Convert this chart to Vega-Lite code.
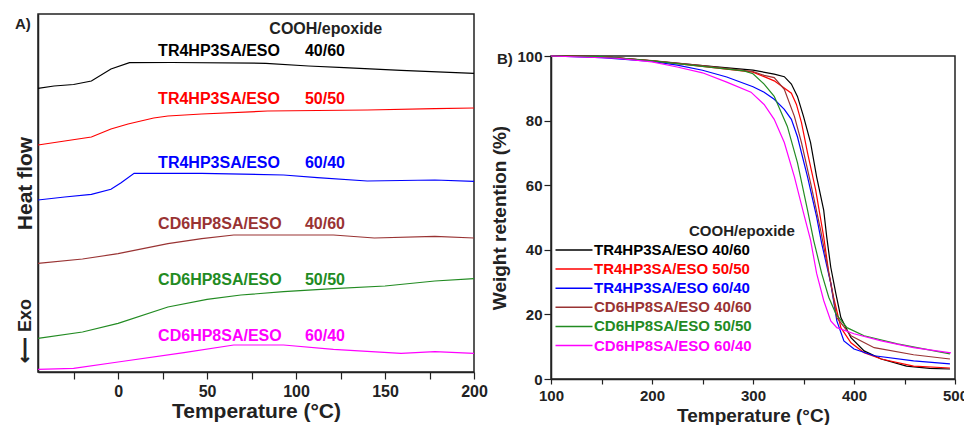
{
  "$schema": "https://vega.github.io/schema/vega-lite/v6.json",
  "background": "white",
  "padding": {"left": 13, "top": 13, "right": 0, "bottom": 0},
  "spacing": 1,
  "config": {
    "font": "Liberation Sans",
    "view": {"stroke": "#222", "strokeWidth": 1.5},
    "axis": {"labelFont": "Liberation Sans", "titleFont": "Liberation Sans", "labelFontWeight": "bold", "titleFontWeight": "bold", "labelColor": "#222", "titleColor": "#222", "domainColor": "#222", "tickColor": "#222", "grid": false, "domainWidth": 1.5, "tickWidth": 1.2},
    "legend": {"labelFont": "Liberation Sans"},
    "title": {"font": "Liberation Sans", "color": "#222"}
  },
  "datasets": {
    "dsc": [
      {"s": "TR4HP3SA/ESO 40/60", "t": -45, "v": 283.7}, {"s": "TR4HP3SA/ESO 40/60", "t": -36, "v": 286}, {"s": "TR4HP3SA/ESO 40/60", "t": -25, "v": 287.5}, {"s": "TR4HP3SA/ESO 40/60", "t": -15, "v": 291}, {"s": "TR4HP3SA/ESO 40/60", "t": -4, "v": 303}, {"s": "TR4HP3SA/ESO 40/60", "t": 6.4, "v": 309.3}, {"s": "TR4HP3SA/ESO 40/60", "t": 30, "v": 309.5}, {"s": "TR4HP3SA/ESO 40/60", "t": 83, "v": 308.7}, {"s": "TR4HP3SA/ESO 40/60", "t": 107, "v": 306}, {"s": "TR4HP3SA/ESO 40/60", "t": 127, "v": 304.3}, {"s": "TR4HP3SA/ESO 40/60", "t": 159, "v": 301.7}, {"s": "TR4HP3SA/ESO 40/60", "t": 200, "v": 298.7},
      {"s": "TR4HP3SA/ESO 50/50", "t": -45, "v": 227}, {"s": "TR4HP3SA/ESO 50/50", "t": -30, "v": 231}, {"s": "TR4HP3SA/ESO 50/50", "t": -15, "v": 235}, {"s": "TR4HP3SA/ESO 50/50", "t": -4, "v": 243}, {"s": "TR4HP3SA/ESO 50/50", "t": 5.6, "v": 248}, {"s": "TR4HP3SA/ESO 50/50", "t": 20, "v": 254}, {"s": "TR4HP3SA/ESO 50/50", "t": 28, "v": 256}, {"s": "TR4HP3SA/ESO 50/50", "t": 47, "v": 258}, {"s": "TR4HP3SA/ESO 50/50", "t": 84, "v": 261}, {"s": "TR4HP3SA/ESO 50/50", "t": 140, "v": 262}, {"s": "TR4HP3SA/ESO 50/50", "t": 178, "v": 263.3}, {"s": "TR4HP3SA/ESO 50/50", "t": 200, "v": 264},
      {"s": "TR4HP3SA/ESO 60/40", "t": -45, "v": 172}, {"s": "TR4HP3SA/ESO 60/40", "t": -30, "v": 175}, {"s": "TR4HP3SA/ESO 60/40", "t": -15, "v": 177.7}, {"s": "TR4HP3SA/ESO 60/40", "t": -4, "v": 182.7}, {"s": "TR4HP3SA/ESO 60/40", "t": 1.7, "v": 189.3}, {"s": "TR4HP3SA/ESO 60/40", "t": 9, "v": 198.7}, {"s": "TR4HP3SA/ESO 60/40", "t": 47, "v": 198.7}, {"s": "TR4HP3SA/ESO 60/40", "t": 93, "v": 197}, {"s": "TR4HP3SA/ESO 60/40", "t": 112, "v": 194.3}, {"s": "TR4HP3SA/ESO 60/40", "t": 140, "v": 191}, {"s": "TR4HP3SA/ESO 60/40", "t": 178, "v": 192}, {"s": "TR4HP3SA/ESO 60/40", "t": 200, "v": 190.7},
      {"s": "CD6HP8SA/ESO 40/60", "t": -45, "v": 108.7}, {"s": "CD6HP8SA/ESO 40/60", "t": -20, "v": 113}, {"s": "CD6HP8SA/ESO 40/60", "t": 0, "v": 118.3}, {"s": "CD6HP8SA/ESO 40/60", "t": 28, "v": 128.3}, {"s": "CD6HP8SA/ESO 40/60", "t": 47, "v": 133.3}, {"s": "CD6HP8SA/ESO 40/60", "t": 65, "v": 137}, {"s": "CD6HP8SA/ESO 40/60", "t": 121, "v": 137}, {"s": "CD6HP8SA/ESO 40/60", "t": 144, "v": 134}, {"s": "CD6HP8SA/ESO 40/60", "t": 178, "v": 135.7}, {"s": "CD6HP8SA/ESO 40/60", "t": 200, "v": 134},
      {"s": "CD6HP8SA/ESO 50/50", "t": -45, "v": 33.7}, {"s": "CD6HP8SA/ESO 50/50", "t": -20, "v": 40}, {"s": "CD6HP8SA/ESO 50/50", "t": 0, "v": 48.7}, {"s": "CD6HP8SA/ESO 50/50", "t": 28, "v": 65}, {"s": "CD6HP8SA/ESO 50/50", "t": 50, "v": 72.7}, {"s": "CD6HP8SA/ESO 50/50", "t": 69, "v": 77}, {"s": "CD6HP8SA/ESO 50/50", "t": 93, "v": 80.3}, {"s": "CD6HP8SA/ESO 50/50", "t": 121, "v": 83.3}, {"s": "CD6HP8SA/ESO 50/50", "t": 150, "v": 86}, {"s": "CD6HP8SA/ESO 50/50", "t": 178, "v": 91}, {"s": "CD6HP8SA/ESO 50/50", "t": 200, "v": 93.3},
      {"s": "CD6HP8SA/ESO 60/40", "t": -45, "v": 2.7}, {"s": "CD6HP8SA/ESO 60/40", "t": -25, "v": 3.7}, {"s": "CD6HP8SA/ESO 60/40", "t": 0, "v": 10}, {"s": "CD6HP8SA/ESO 60/40", "t": 37, "v": 19.3}, {"s": "CD6HP8SA/ESO 60/40", "t": 65, "v": 27}, {"s": "CD6HP8SA/ESO 60/40", "t": 93, "v": 27}, {"s": "CD6HP8SA/ESO 60/40", "t": 121, "v": 22.7}, {"s": "CD6HP8SA/ESO 60/40", "t": 159, "v": 18.7}, {"s": "CD6HP8SA/ESO 60/40", "t": 178, "v": 20.3}, {"s": "CD6HP8SA/ESO 60/40", "t": 200, "v": 18.7}
    ],
    "dsclab": [
      {"s": "TR4HP3SA/ESO 40/60", "name": "TR4HP3SA/ESO", "ratio": "40/60", "v": 321},
      {"s": "TR4HP3SA/ESO 50/50", "name": "TR4HP3SA/ESO", "ratio": "50/50", "v": 273},
      {"s": "TR4HP3SA/ESO 60/40", "name": "TR4HP3SA/ESO", "ratio": "60/40", "v": 209},
      {"s": "CD6HP8SA/ESO 40/60", "name": "CD6HP8SA/ESO", "ratio": "40/60", "v": 148},
      {"s": "CD6HP8SA/ESO 50/50", "name": "CD6HP8SA/ESO", "ratio": "50/50", "v": 92},
      {"s": "CD6HP8SA/ESO 60/40", "name": "CD6HP8SA/ESO", "ratio": "60/40", "v": 36}
    ],
    "tga": [
      {"s": "TR4HP3SA/ESO 40/60", "t": 100, "w": 100}, {"s": "TR4HP3SA/ESO 40/60", "t": 150, "w": 99.8}, {"s": "TR4HP3SA/ESO 40/60", "t": 200, "w": 98.5}, {"s": "TR4HP3SA/ESO 40/60", "t": 250, "w": 97}, {"s": "TR4HP3SA/ESO 40/60", "t": 300, "w": 95.6}, {"s": "TR4HP3SA/ESO 40/60", "t": 321, "w": 94.4}, {"s": "TR4HP3SA/ESO 40/60", "t": 331, "w": 93.6}, {"s": "TR4HP3SA/ESO 40/60", "t": 338, "w": 91.3}, {"s": "TR4HP3SA/ESO 40/60", "t": 344, "w": 87.5}, {"s": "TR4HP3SA/ESO 40/60", "t": 350, "w": 81.3}, {"s": "TR4HP3SA/ESO 40/60", "t": 357, "w": 73.2}, {"s": "TR4HP3SA/ESO 40/60", "t": 363, "w": 62.6}, {"s": "TR4HP3SA/ESO 40/60", "t": 370, "w": 52.3}, {"s": "TR4HP3SA/ESO 40/60", "t": 373, "w": 44}, {"s": "TR4HP3SA/ESO 40/60", "t": 377, "w": 34.6}, {"s": "TR4HP3SA/ESO 40/60", "t": 382, "w": 26.5}, {"s": "TR4HP3SA/ESO 40/60", "t": 387, "w": 19}, {"s": "TR4HP3SA/ESO 40/60", "t": 397, "w": 12.8}, {"s": "TR4HP3SA/ESO 40/60", "t": 410, "w": 8.7}, {"s": "TR4HP3SA/ESO 40/60", "t": 427, "w": 6.2}, {"s": "TR4HP3SA/ESO 40/60", "t": 452, "w": 4}, {"s": "TR4HP3SA/ESO 40/60", "t": 475, "w": 3.3}, {"s": "TR4HP3SA/ESO 40/60", "t": 495, "w": 3.1},
      {"s": "TR4HP3SA/ESO 50/50", "t": 100, "w": 100}, {"s": "TR4HP3SA/ESO 50/50", "t": 150, "w": 99.8}, {"s": "TR4HP3SA/ESO 50/50", "t": 200, "w": 98.5}, {"s": "TR4HP3SA/ESO 50/50", "t": 250, "w": 96.8}, {"s": "TR4HP3SA/ESO 50/50", "t": 300, "w": 95}, {"s": "TR4HP3SA/ESO 50/50", "t": 311, "w": 93.6}, {"s": "TR4HP3SA/ESO 50/50", "t": 321, "w": 92.3}, {"s": "TR4HP3SA/ESO 50/50", "t": 338, "w": 88.5}, {"s": "TR4HP3SA/ESO 50/50", "t": 343, "w": 85}, {"s": "TR4HP3SA/ESO 50/50", "t": 348, "w": 79.4}, {"s": "TR4HP3SA/ESO 50/50", "t": 354, "w": 70}, {"s": "TR4HP3SA/ESO 50/50", "t": 362, "w": 58.6}, {"s": "TR4HP3SA/ESO 50/50", "t": 370, "w": 44}, {"s": "TR4HP3SA/ESO 50/50", "t": 375, "w": 33}, {"s": "TR4HP3SA/ESO 50/50", "t": 380, "w": 25}, {"s": "TR4HP3SA/ESO 50/50", "t": 387, "w": 15.9}, {"s": "TR4HP3SA/ESO 50/50", "t": 397, "w": 11.2}, {"s": "TR4HP3SA/ESO 50/50", "t": 410, "w": 8.1}, {"s": "TR4HP3SA/ESO 50/50", "t": 427, "w": 6.2}, {"s": "TR4HP3SA/ESO 50/50", "t": 459, "w": 4}, {"s": "TR4HP3SA/ESO 50/50", "t": 495, "w": 3.4},
      {"s": "TR4HP3SA/ESO 60/40", "t": 100, "w": 100}, {"s": "TR4HP3SA/ESO 60/40", "t": 150, "w": 99.5}, {"s": "TR4HP3SA/ESO 60/40", "t": 200, "w": 98.3}, {"s": "TR4HP3SA/ESO 60/40", "t": 225, "w": 97.2}, {"s": "TR4HP3SA/ESO 60/40", "t": 250, "w": 95.6}, {"s": "TR4HP3SA/ESO 60/40", "t": 274, "w": 93.5}, {"s": "TR4HP3SA/ESO 60/40", "t": 300, "w": 90.5}, {"s": "TR4HP3SA/ESO 60/40", "t": 311, "w": 88.8}, {"s": "TR4HP3SA/ESO 60/40", "t": 321, "w": 86.6}, {"s": "TR4HP3SA/ESO 60/40", "t": 331, "w": 83.5}, {"s": "TR4HP3SA/ESO 60/40", "t": 338, "w": 80.4}, {"s": "TR4HP3SA/ESO 60/40", "t": 344, "w": 75}, {"s": "TR4HP3SA/ESO 60/40", "t": 354, "w": 62.6}, {"s": "TR4HP3SA/ESO 60/40", "t": 363, "w": 50.2}, {"s": "TR4HP3SA/ESO 60/40", "t": 368, "w": 42}, {"s": "TR4HP3SA/ESO 60/40", "t": 377, "w": 29.6}, {"s": "TR4HP3SA/ESO 60/40", "t": 383, "w": 18}, {"s": "TR4HP3SA/ESO 60/40", "t": 390, "w": 11.8}, {"s": "TR4HP3SA/ESO 60/40", "t": 400, "w": 9.3}, {"s": "TR4HP3SA/ESO 60/40", "t": 420, "w": 7.2}, {"s": "TR4HP3SA/ESO 60/40", "t": 459, "w": 5.6}, {"s": "TR4HP3SA/ESO 60/40", "t": 495, "w": 4.7},
      {"s": "CD6HP8SA/ESO 40/60", "t": 100, "w": 100}, {"s": "CD6HP8SA/ESO 40/60", "t": 150, "w": 99.8}, {"s": "CD6HP8SA/ESO 40/60", "t": 200, "w": 98.6}, {"s": "CD6HP8SA/ESO 40/60", "t": 250, "w": 97}, {"s": "CD6HP8SA/ESO 40/60", "t": 300, "w": 95.2}, {"s": "CD6HP8SA/ESO 40/60", "t": 311, "w": 94}, {"s": "CD6HP8SA/ESO 40/60", "t": 321, "w": 93.3}, {"s": "CD6HP8SA/ESO 40/60", "t": 331, "w": 89.7}, {"s": "CD6HP8SA/ESO 40/60", "t": 341, "w": 81.3}, {"s": "CD6HP8SA/ESO 40/60", "t": 348, "w": 73.2}, {"s": "CD6HP8SA/ESO 40/60", "t": 357, "w": 60.7}, {"s": "CD6HP8SA/ESO 40/60", "t": 367, "w": 46}, {"s": "CD6HP8SA/ESO 40/60", "t": 377, "w": 29.6}, {"s": "CD6HP8SA/ESO 40/60", "t": 383, "w": 19}, {"s": "CD6HP8SA/ESO 40/60", "t": 397, "w": 13.4}, {"s": "CD6HP8SA/ESO 40/60", "t": 420, "w": 9.7}, {"s": "CD6HP8SA/ESO 40/60", "t": 459, "w": 7.5}, {"s": "CD6HP8SA/ESO 40/60", "t": 495, "w": 6.2},
      {"s": "CD6HP8SA/ESO 50/50", "t": 100, "w": 100}, {"s": "CD6HP8SA/ESO 50/50", "t": 150, "w": 99.8}, {"s": "CD6HP8SA/ESO 50/50", "t": 200, "w": 98.5}, {"s": "CD6HP8SA/ESO 50/50", "t": 250, "w": 96.8}, {"s": "CD6HP8SA/ESO 50/50", "t": 291, "w": 95.4}, {"s": "CD6HP8SA/ESO 50/50", "t": 300, "w": 94.5}, {"s": "CD6HP8SA/ESO 50/50", "t": 311, "w": 91.3}, {"s": "CD6HP8SA/ESO 50/50", "t": 321, "w": 87.5}, {"s": "CD6HP8SA/ESO 50/50", "t": 334, "w": 78.2}, {"s": "CD6HP8SA/ESO 50/50", "t": 344, "w": 67}, {"s": "CD6HP8SA/ESO 50/50", "t": 354, "w": 52.3}, {"s": "CD6HP8SA/ESO 50/50", "t": 360, "w": 43}, {"s": "CD6HP8SA/ESO 50/50", "t": 368, "w": 32.7}, {"s": "CD6HP8SA/ESO 50/50", "t": 375, "w": 25.3}, {"s": "CD6HP8SA/ESO 50/50", "t": 382, "w": 20.2}, {"s": "CD6HP8SA/ESO 50/50", "t": 393, "w": 15.9}, {"s": "CD6HP8SA/ESO 50/50", "t": 410, "w": 13.4}, {"s": "CD6HP8SA/ESO 50/50", "t": 443, "w": 10.9}, {"s": "CD6HP8SA/ESO 50/50", "t": 495, "w": 7.8},
      {"s": "CD6HP8SA/ESO 60/40", "t": 100, "w": 100}, {"s": "CD6HP8SA/ESO 60/40", "t": 165, "w": 99.3}, {"s": "CD6HP8SA/ESO 60/40", "t": 200, "w": 98.2}, {"s": "CD6HP8SA/ESO 60/40", "t": 225, "w": 96.6}, {"s": "CD6HP8SA/ESO 60/40", "t": 250, "w": 94.8}, {"s": "CD6HP8SA/ESO 60/40", "t": 274, "w": 91.9}, {"s": "CD6HP8SA/ESO 60/40", "t": 298, "w": 88.8}, {"s": "CD6HP8SA/ESO 60/40", "t": 311, "w": 85}, {"s": "CD6HP8SA/ESO 60/40", "t": 321, "w": 80.4}, {"s": "CD6HP8SA/ESO 60/40", "t": 331, "w": 73.2}, {"s": "CD6HP8SA/ESO 60/40", "t": 341, "w": 62.6}, {"s": "CD6HP8SA/ESO 60/40", "t": 350, "w": 51.4}, {"s": "CD6HP8SA/ESO 60/40", "t": 357, "w": 43}, {"s": "CD6HP8SA/ESO 60/40", "t": 363, "w": 32.7}, {"s": "CD6HP8SA/ESO 60/40", "t": 370, "w": 24.3}, {"s": "CD6HP8SA/ESO 60/40", "t": 377, "w": 18}, {"s": "CD6HP8SA/ESO 60/40", "t": 383, "w": 15.9}, {"s": "CD6HP8SA/ESO 60/40", "t": 400, "w": 14}, {"s": "CD6HP8SA/ESO 60/40", "t": 427, "w": 11.8}, {"s": "CD6HP8SA/ESO 60/40", "t": 459, "w": 9.7}, {"s": "CD6HP8SA/ESO 60/40", "t": 496, "w": 8.1}
    ]
  },
  "resolve": {"scale": {"color": "independent"}, "legend": {"color": "independent"}},
  "hconcat": [
    {
      "width": 436,
      "height": 358,
      "layer": [
        {
          "data": {"name": "dsc"},
          "mark": {"type": "line", "strokeWidth": 1.2},
          "encoding": {
            "x": {"field": "t", "type": "quantitative", "scale": {"domain": [-45, 200], "nice": false, "zero": false},
                  "axis": {"values": [-25, 0, 25, 50, 75, 100, 125, 150, 175, 200], "labelExpr": "datum.value % 50 == 0 ? datum.label : ''", "title": "Temperature (°C)", "titleFontSize": 21, "labelFontSize": 16, "tickSize": 7, "labelPadding": 4, "titlePadding": 1, "labelFlush": false}},
            "y": {"field": "v", "type": "quantitative", "scale": {"domain": [0, 358], "nice": false, "zero": false},
                  "axis": {"title": "Heat flow", "titleFontSize": 21, "ticks": false, "labels": false, "titlePadding": 3, "titleY": 169}},
            "color": {"field": "s", "type": "nominal",
                      "scale": {"domain": ["TR4HP3SA/ESO 40/60", "TR4HP3SA/ESO 50/50", "TR4HP3SA/ESO 60/40", "CD6HP8SA/ESO 40/60", "CD6HP8SA/ESO 50/50", "CD6HP8SA/ESO 60/40"], "range": ["#000000", "#ff0000", "#0000ff", "#993333", "#228b22", "#ff00ff"]},
                      "legend": null}
          }
        },
        {
          "data": {"name": "dsclab"},
          "mark": {"type": "text", "align": "left", "baseline": "middle", "fontSize": 16, "fontWeight": "bold"},
          "encoding": {
            "x": {"datum": 22.5, "type": "quantitative"},
            "y": {"field": "v", "type": "quantitative", "title": "Heat flow"},
            "text": {"field": "name"},
            "color": {"field": "s", "type": "nominal", "legend": null}
          }
        },
        {
          "data": {"name": "dsclab"},
          "mark": {"type": "text", "align": "left", "baseline": "middle", "fontSize": 16, "fontWeight": "bold"},
          "encoding": {
            "x": {"datum": 105, "type": "quantitative"},
            "y": {"field": "v", "type": "quantitative", "title": "Heat flow"},
            "text": {"field": "ratio"},
            "color": {"field": "s", "type": "nominal", "legend": null}
          }
        },
        {
          "data": {"values": [{"label": "COOH/epoxide", "v": 343}]},
          "mark": {"type": "text", "align": "left", "baseline": "middle", "fontSize": 16, "fontWeight": "bold", "color": "#222"},
          "encoding": {
            "x": {"datum": 85, "type": "quantitative"},
            "y": {"field": "v", "type": "quantitative", "title": "Heat flow"},
            "text": {"field": "label"}
          }
        },
        {
          "data": {"values": [{"label": "A)", "v": 358}]},
          "mark": {"type": "text", "align": "left", "baseline": "top", "fontSize": 15, "fontWeight": "bold", "dx": -23, "dy": 3, "color": "#222"},
          "encoding": {
            "x": {"datum": -45, "type": "quantitative"},
            "y": {"field": "v", "type": "quantitative", "title": "Heat flow"},
            "text": {"field": "label"}
          }
        },
        {
          "data": {"values": [{"label": "⟵ Exo", "v": 41}]},
          "mark": {"type": "text", "align": "center", "baseline": "middle", "fontSize": 18, "fontWeight": "bold", "angle": 270, "dy": -12, "color": "#222"},
          "encoding": {
            "x": {"datum": -45, "type": "quantitative"},
            "y": {"field": "v", "type": "quantitative", "title": "Heat flow"},
            "text": {"field": "label"}
          }
        }
      ]
    },
    {
      "spacing": 0,
      "resolve": {"scale": {"color": "independent"}, "legend": {"color": "independent"}},
      "vconcat": [
        {
          "width": 404,
          "height": 33,
          "view": {"stroke": "transparent"},
          "data": {"values": []},
          "mark": {"type": "point", "opacity": 0},
          "encoding": {}
        },
        {
          "width": 404,
          "height": 323,
          "layer": [
            {
              "data": {"name": "tga"},
              "mark": {"type": "line", "strokeWidth": 1.2},
              "encoding": {
                "x": {"field": "t", "type": "quantitative", "scale": {"domain": [100, 500], "nice": false, "zero": false},
                      "axis": {"values": [100, 150, 200, 250, 300, 350, 400, 450, 500], "labelExpr": "datum.value % 100 == 0 ? datum.label : ''", "title": "Temperature (°C)", "titleFontSize": 19, "labelFontSize": 15, "tickSize": 5, "labelPadding": 4, "titlePadding": 3, "labelFlush": false}},
                "y": {"field": "w", "type": "quantitative", "scale": {"domain": [0, 100], "nice": false},
                      "axis": {"values": [0, 20, 40, 60, 80, 100], "title": "Weight retention (%)", "titleFontSize": 19, "labelFontSize": 15, "tickSize": 7, "labelPadding": 2, "titlePadding": 7}},
                "color": {"field": "s", "type": "nominal",
                          "scale": {"domain": ["TR4HP3SA/ESO 40/60", "TR4HP3SA/ESO 50/50", "TR4HP3SA/ESO 60/40", "CD6HP8SA/ESO 40/60", "CD6HP8SA/ESO 50/50", "CD6HP8SA/ESO 60/40"], "range": ["#000000", "#ff0000", "#0000ff", "#993333", "#228b22", "#ff00ff"]},
                          "legend": {"orient": "none", "legendX": 13, "legendY": 184, "title": null, "symbolType": "M-2,0H2", "symbolSize": 342, "symbolStrokeWidth": 1.5, "labelFontSize": 15, "labelFontWeight": "bold", "rowPadding": 1.1, "labelOffset": 10, "padding": 0,
                                     "encode": {"labels": {"update": {"fill": {"signal": "datum.value === 'TR4HP3SA/ESO 40/60' ? '#000000' : datum.value === 'TR4HP3SA/ESO 50/50' ? '#ff0000' : datum.value === 'TR4HP3SA/ESO 60/40' ? '#0000ff' : datum.value === 'CD6HP8SA/ESO 40/60' ? '#993333' : datum.value === 'CD6HP8SA/ESO 50/50' ? '#228b22' : '#ff00ff'"}}}}}}
              }
            },
            {
              "data": {"values": [{"label": "COOH/epoxide", "w": 45.8}]},
              "mark": {"type": "text", "align": "left", "baseline": "middle", "fontSize": 15, "fontWeight": "bold", "color": "#222"},
              "encoding": {
                "x": {"datum": 236.6, "type": "quantitative"},
                "y": {"field": "w", "type": "quantitative", "title": "Weight retention (%)"},
                "text": {"field": "label"}
              }
            },
            {
              "data": {"values": [{"label": "B)", "w": 100}]},
              "mark": {"type": "text", "align": "left", "baseline": "top", "fontSize": 15, "fontWeight": "bold", "dx": -54, "dy": -4, "color": "#222"},
              "encoding": {
                "x": {"datum": 100, "type": "quantitative"},
                "y": {"field": "w", "type": "quantitative", "title": "Weight retention (%)"},
                "text": {"field": "label"}
              }
            }
          ]
        }
      ]
    }
  ]
}
